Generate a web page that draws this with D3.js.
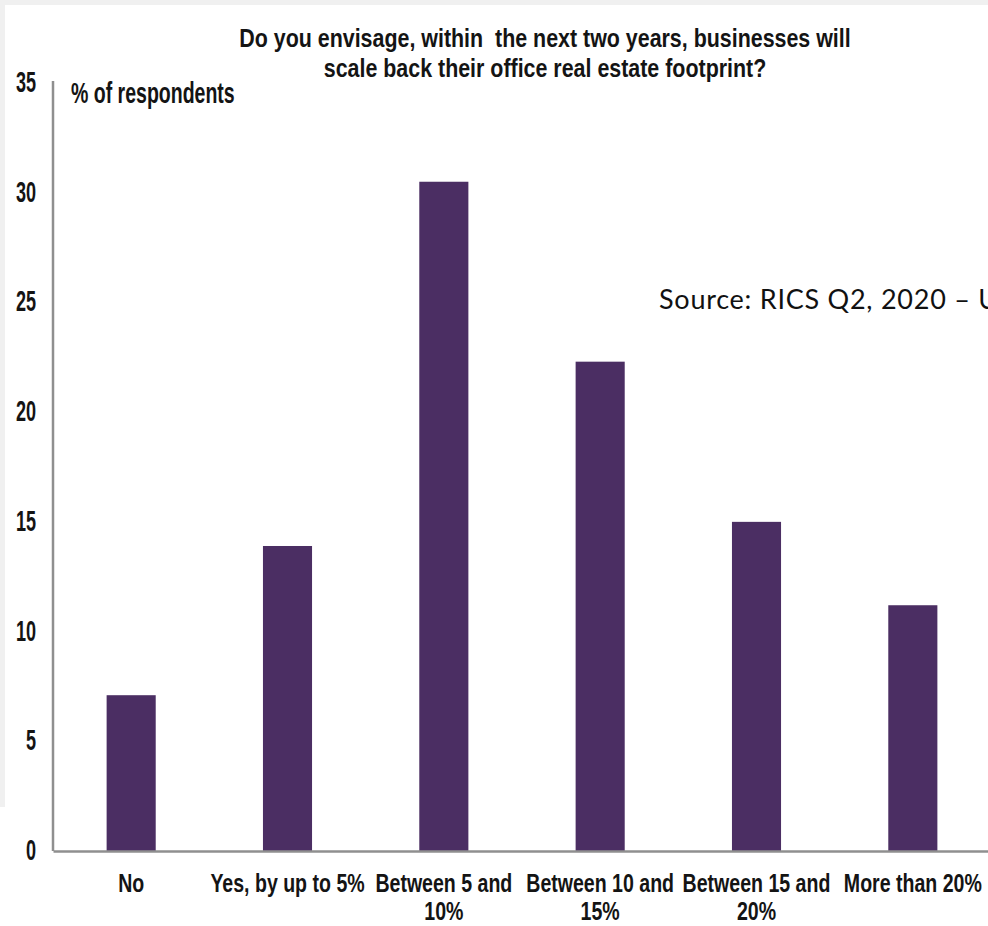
<!DOCTYPE html>
<html>
<head>
<meta charset="utf-8">
<script src="https://cdn.jsdelivr.net/npm/d3@7"></script>
<style>
  html, body { margin: 0; padding: 0; background: #f0f0f0; }
  svg { display: block; }
</style>
</head>
<body>
<svg id="chart" width="988" height="926"></svg>
<script>
const categories = ["No", "Yes, by up to 5%", "Between 5 and 10%", "Between 10 and 15%", "Between 15 and 20%", "More than 20%"];
const categoryLabelLines = [["No"], ["Yes, by up to 5%"], ["Between 5 and", "10%"], ["Between 10 and", "15%"], ["Between 15 and", "20%"], ["More than 20%"]];
const values = [7.1, 13.9, 30.5, 22.3, 15.0, 11.2];
const yTicks = [0, 5, 10, 15, 20, 25, 30, 35];
const titleLines = ["Do you envisage, within  the next two years, businesses will", "scale back their office real estate footprint?"];
const yAxisLabel = "% of respondents";
const sourceText = "Source: RICS Q2, 2020 \u2013 U";

const svg = d3.select("#chart");
const W = 988, H = 926;
const font = "'Liberation Sans', Arial, sans-serif";

// background frame
svg.append("rect").attr("x", 0).attr("y", 0).attr("width", W).attr("height", H).attr("fill", "#f0f0f0");
svg.append("rect").attr("x", 5).attr("y", 5).attr("width", W - 5).attr("height", H - 5).attr("fill", "#ffffff");
svg.append("rect").attr("x", 0).attr("y", 807).attr("width", 6).attr("height", H - 807).attr("fill", "#ffffff");

const x0 = 53, yBase = 851, yTop = 83;
const x = d3.scaleBand().domain(categories).range([x0, 991]).paddingInner(0.686).paddingOuter(0.343);
const y = d3.scaleLinear().domain([0, 35]).range([yBase, yTop]);

// stretched condensed text helper
function stretchedText(sel, tx, ty, sx, sy, size, anchor, str) {
  return sel.append("text")
    .attr("transform", `translate(${tx},${ty}) scale(${sx},${sy})`)
    .attr("text-anchor", anchor)
    .attr("font-family", font).attr("font-weight", "bold").attr("font-size", size)
    .attr("fill", "#141414")
    .style("white-space", "pre")
    .text(str);
}

const g = svg.append("g");

// bars
g.selectAll("rect.bar").data(categories).join("rect")
  .attr("class", "bar")
  .attr("x", d => x(d))
  .attr("width", x.bandwidth())
  .attr("y", (d, i) => y(values[i]))
  .attr("height", (d, i) => yBase - y(values[i]))
  .attr("fill", "#4b2e63");

// y axis
const yAxis = d3.axisLeft(y).tickValues(yTicks).tickSize(0).tickFormat("");
const yg = g.append("g").attr("transform", `translate(${x0},0)`).call(yAxis);
yg.select(".domain").attr("stroke", "#8f8f8f").attr("stroke-width", 2.5).attr("d", `M0,${yBase}V${yTop - 2}`);
yg.selectAll(".tick").each(function(d) {
  stretchedText(d3.select(this), -17, 8.5, 0.86, 1.4, 21, "end", d3.format("d")(d));
});

// x axis
const xAxis = d3.axisBottom(x).tickSize(0).tickSizeOuter(0).tickFormat("");
const xg = g.append("g").attr("transform", `translate(0,${yBase})`).call(xAxis);
xg.select(".domain").attr("stroke", "#8f8f8f").attr("stroke-width", 2.5);
xg.selectAll(".tick").each(function(d, i) {
  const tick = d3.select(this);
  categoryLabelLines[i].forEach((ln, j) => {
    stretchedText(tick, 0, 41 + j * 28, 0.91, 1.2, 21.5, "middle", ln);
  });
});

// y axis label
stretchedText(svg, 71, 103, 0.93, 1.4, 21, "start", yAxisLabel);

// title
titleLines.forEach((t, i) => {
  stretchedText(svg, 545, 47 + i * 30, 1.02, 1.27, 21, "middle", t);
});

// source
svg.append("text")
  .attr("x", 659).attr("y", 309)
  .attr("font-family", "Lato, 'Open Sans', sans-serif")
  .attr("font-size", 27)
  .attr("letter-spacing", 0.75)
  .attr("fill", "#111")
  .text(sourceText);
</script>
</body>
</html>
